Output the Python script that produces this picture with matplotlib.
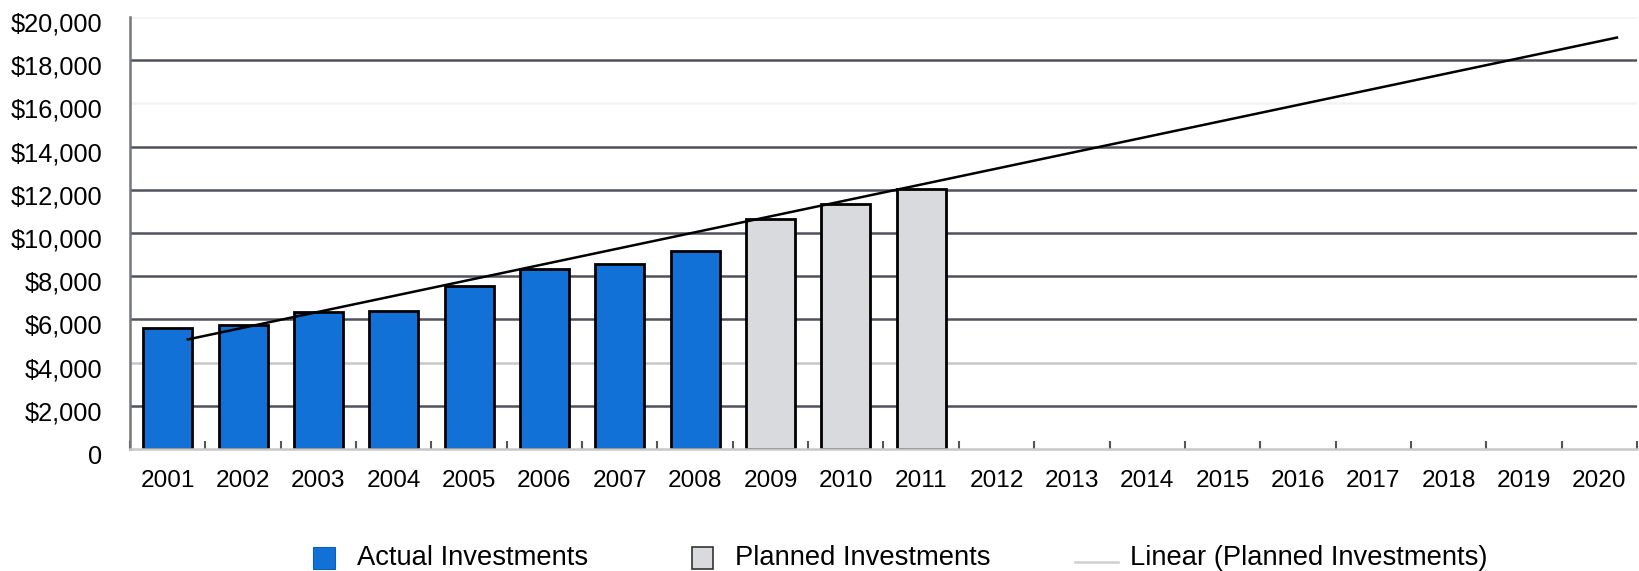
import matplotlib
matplotlib.use("Agg")
import matplotlib.pyplot as plt
import matplotlib.transforms as mtransforms
from matplotlib.patches import Rectangle
from matplotlib.lines import Line2D

plt.rcParams['font.family'] = ['Liberation Sans', 'DejaVu Sans']

years = [str(y) for y in range(2001, 2021)]
actual_years = ['2001', '2002', '2003', '2004', '2005', '2006', '2007', '2008']
actual_values = [5600, 5750, 6320, 6370, 7530, 8340, 8580, 9160]
planned_years = ['2009', '2010', '2011']
planned_values = [10660, 11320, 12020]
trend_years = ['2001', '2020']
trend_values = [5060, 19060]
ytick_values = [0, 2000, 4000, 6000, 8000, 10000, 12000, 14000, 16000, 18000, 20000]
ytick_labels = ['0', '$2,000', '$4,000', '$6,000', '$8,000', '$10,000', '$12,000',
                '$14,000', '$16,000', '$18,000', '$20,000']
legend_labels = ['Actual Investments', 'Planned Investments', 'Linear (Planned Investments)']

BLUE = '#1271d7'
GREY = '#d9dade'
DARK_GRID = '#50525f'
LIGHT_GRID = '#c8c8c8'
FAINT_GRID = '#f1f2f2'

W, H = 1640, 571
fig = plt.figure(figsize=(W / 100, H / 100), dpi=100)
ax = fig.add_axes([130 / W, 1 - 449 / H, (1637 - 130) / W, (449 - 17) / H])

pos = {y: i for i, y in enumerate(years)}

# gridlines
grid_colors = {0: LIGHT_GRID, 4000: LIGHT_GRID, 16000: FAINT_GRID, 20000: FAINT_GRID}
for v in ytick_values:
    if v == 0:
        continue
    ax.axhline(v, color=grid_colors.get(v, DARK_GRID), lw=1.8, zorder=0.5)

bw = 0.65
ax.bar([pos[y] for y in actual_years], actual_values, width=bw, color=BLUE,
       edgecolor='black', linewidth=2.0, zorder=2)
ax.bar([pos[y] for y in planned_years], planned_values, width=bw, color=GREY,
       edgecolor='black', linewidth=2.0, zorder=2)

shift = 0.25
ax.plot([pos[y] + shift for y in trend_years], trend_values, color='black',
        lw=1.8, zorder=3, solid_capstyle='butt')

ax.set_xlim(-0.5, len(years) - 0.5)
ax.set_ylim(0, 20000)

ax.set_xticks(range(len(years)))
ax.set_xticklabels(years)
ax.set_xticks([i + 0.5 for i in range(-1, len(years))], minor=True)
ax.tick_params(axis='x', which='major', length=0, pad=15, labelsize=17.6)
ax.tick_params(axis='x', which='minor', direction='in', length=6, width=1.5,
               color='#555555')

ax.set_yticks(ytick_values)
ax.set_yticklabels(ytick_labels)
ax.tick_params(axis='y', length=0, pad=20, labelsize=18.3)
off = mtransforms.ScaledTranslation(0, -5 / 100, fig.dpi_scale_trans)
for lab in ax.get_yticklabels():
    lab.set_transform(lab.get_transform() + off)

for s in ['top', 'right']:
    ax.spines[s].set_visible(False)
ax.spines['left'].set_color('#74767f')
ax.spines['left'].set_linewidth(1.8)
ax.spines['bottom'].set_color(LIGHT_GRID)
ax.spines['bottom'].set_linewidth(1.8)

# legend (manual, along the bottom edge)
ly = 1 - 558 / H
sq_h = 22 / H
lfs = 19.7
fig.patches.append(Rectangle((313 / W, ly - sq_h / 2), 22 / W, sq_h, transform=fig.transFigure,
                             facecolor=BLUE, edgecolor='#0f5fb5', lw=0.8))
fig.text(357 / W, ly, legend_labels[0], fontsize=lfs, va='center', ha='left')
fig.patches.append(Rectangle((692 / W, ly - sq_h / 2), 21 / W, sq_h, transform=fig.transFigure,
                             facecolor=GREY, edgecolor='#333333', lw=1.2))
fig.text(735 / W, ly, legend_labels[1], fontsize=lfs, va='center', ha='left')
fig.lines.append(Line2D([1075 / W, 1118 / W], [1 - 562 / H, 1 - 562 / H], transform=fig.transFigure,
                        color='#d0d0d0', lw=1.8))
fig.text(1130 / W, ly, legend_labels[2], fontsize=lfs, va='center', ha='left')

fig.savefig('out.png', dpi=100)
